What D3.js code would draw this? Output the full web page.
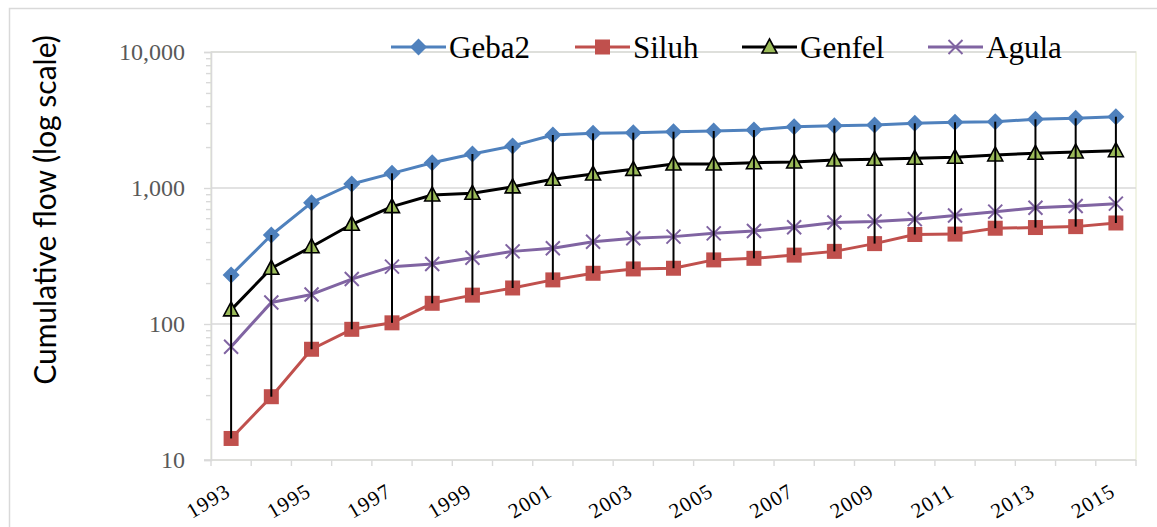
<!DOCTYPE html>
<html>
<head>
<meta charset="utf-8">
<script src="https://cdn.jsdelivr.net/npm/d3@7"></script>
<style>
  html, body { margin: 0; padding: 0; background: #fff; }
  svg { display: block; }
</style>
</head>
<body>
<svg id="chart" width="1157" height="527"></svg>
<script>
// ---- data ----
const years = [1993,1994,1995,1996,1997,1998,1999,2000,2001,2002,2003,2004,2005,2006,2007,2008,2009,2010,2011,2012,2013,2014,2015];
const geba2  = [229,451,780,1070,1282,1535,1778,2040,2454,2525,2552,2594,2624,2668,2825,2871,2904,2991,3043,3075,3200,3254,3343];
const siluh  = [14.4,29.2,65.2,91.4,102,142,163,184,211,236,254,257,296,304,321,342,390,455,458,506,512,520,553];
const genfel = [127,257,370,541,729,889,914,1020,1159,1267,1371,1500,1500,1535,1552,1607,1625,1653,1681,1749,1800,1840,1880];
const agula  = [68,144,165,214,264,276,307,342,361,403,427,439,464,483,514,557,568,590,628,670,715,738,767];
const seriesNames = ["Geba2","Siluh","Genfel","Agula"];
const yTickValues = [10,100,1000,10000];
const xLabelYears = [1993,1995,1997,1999,2001,2003,2005,2007,2009,2011,2013,2015];
const yTitle = "Cumulative flow (log scale)";

// ---- layout ----
const svg = d3.select("#chart");
const L = 211, R = 1136, T = 52, B = 460;

const x = d3.scaleBand().domain(years).range([L, R]);
const cx = d => x(d) + x.bandwidth() / 2;
const y = d3.scaleLog().domain([10, 10000]).range([B, T]);

const seriesData = [
  {name: seriesNames[0], values: geba2,  color: "#4f81bd", marker: "diamond"},
  {name: seriesNames[1], values: siluh,  color: "#c0504d", marker: "square"},
  {name: seriesNames[2], values: genfel, color: "#000000", marker: "triangle"},
  {name: seriesNames[3], values: agula,  color: "#8064a2", marker: "x"}
];

// outer chart border
svg.append("path").attr("d", `M9.5,527 V8.5 H1157`).attr("fill", "none").attr("stroke", "#d9d9d9").attr("stroke-width", 1.5);

// plot area border
svg.append("rect").attr("x", L).attr("y", T).attr("width", R - L).attr("height", B - T)
  .attr("fill", "none").attr("stroke", "#ecefdc").attr("stroke-width", 1.5);

// gridlines
svg.append("g").selectAll("line").data(yTickValues.slice(1)).join("line")
  .attr("x1", L).attr("x2", R).attr("y1", d => y(d)).attr("y2", d => y(d))
  .attr("stroke", "#d9d9d9").attr("stroke-width", 1.4);

// y axis minor ticks
const minor = [];
for (let e = 10; e < 10000; e *= 10) for (let k = 2; k <= 9; k++) minor.push(k * e);
const yMinor = svg.append("g").attr("transform", `translate(${L},0)`)
  .call(d3.axisLeft(y).tickValues(minor).tickSize(5).tickFormat(""));
yMinor.select(".domain").remove();
yMinor.selectAll("line").attr("stroke", "#d9d9d9").attr("stroke-width", 1.4);

// y axis major
const yAxis = svg.append("g").attr("transform", `translate(${L},0)`)
  .call(d3.axisLeft(y).tickValues(yTickValues).tickSize(7).tickPadding(19).tickFormat(d3.format(",")));
yAxis.select(".domain").attr("stroke", "#d9d9d9").attr("stroke-width", 1.6);
yAxis.selectAll("line").attr("stroke", "#d9d9d9").attr("stroke-width", 1.4);
yAxis.selectAll("text").attr("fill", "#595959").style("font-family", "'Liberation Serif', 'Times New Roman', serif").style("font-size", "24px");

// x axis line + boundary ticks
svg.append("line").attr("x1", L - 7).attr("x2", R).attr("y1", B).attr("y2", B)
  .attr("stroke", "#d9d9d9").attr("stroke-width", 1.6);
svg.append("g").selectAll("line").data(years.map(d => x(d)).concat([R])).join("line")
  .attr("x1", d => d).attr("x2", d => d).attr("y1", B).attr("y2", B + 6)
  .attr("stroke", "#d9d9d9").attr("stroke-width", 1.4);

// x labels
svg.append("g").selectAll("text").data(xLabelYears).join("text")
  .attr("transform", d => `translate(${cx(d) + 1},495) rotate(-31)`)
  .attr("text-anchor", "end")
  .style("font-family", "'Liberation Serif', 'Times New Roman', serif")
  .style("font-size", "21px").style("letter-spacing", "1.2px")
  .attr("fill", "#000")
  .text(d => d);

// y title
svg.append("text")
  .attr("transform", `translate(56,210) rotate(-90)`)
  .attr("text-anchor", "middle")
  .style("font-family", "Lato, 'Open Sans', sans-serif").style("font-size", "30px")
  .attr("fill", "#000").text(yTitle);

// series lines
const line = d3.line().x((d, i) => cx(years[i])).y(d => y(d));
seriesData.forEach(s => {
  svg.append("path").datum(s.values).attr("d", line)
    .attr("fill", "none").attr("stroke", s.color).attr("stroke-width", 3).attr("stroke-linejoin", "round");
});

// markers
function drawMarker(g, type, px, py, color) {
  if (type === "diamond") {
    g.append("path").attr("d", `M${px},${py-8.5} L${px+8.5},${py} L${px},${py+8.5} L${px-8.5},${py} Z`).attr("fill", color);
  } else if (type === "square") {
    g.append("rect").attr("x", px - 7.5).attr("y", py - 7.5).attr("width", 15).attr("height", 15).attr("fill", color);
  } else if (type === "triangle") {
    g.append("path").attr("d", `M${px},${py-8} L${px+7.5},${py+6} L${px-7.5},${py+6} Z`)
      .attr("fill", "#9bbb59").attr("stroke", "#000").attr("stroke-width", 1.6).attr("stroke-linejoin", "miter");
  } else if (type === "x") {
    g.append("path").attr("d", `M${px-7},${py-7} L${px+7},${py+7} M${px+7},${py-7} L${px-7},${py+7}`)
      .attr("stroke", color).attr("stroke-width", 2);
  }
}
const mg = svg.append("g");
seriesData.forEach(s => {
  s.values.forEach((v, i) => drawMarker(mg, s.marker, cx(years[i]), y(v), s.color));
});

// high-low lines
svg.append("g").selectAll("line").data(years).join("line")
  .attr("x1", d => cx(d)).attr("x2", d => cx(d))
  .attr("y1", (d, i) => y(d3.max([geba2[i], siluh[i], genfel[i], agula[i]])))
  .attr("y2", (d, i) => y(d3.min([geba2[i], siluh[i], genfel[i], agula[i]])))
  .attr("stroke", "#000").attr("stroke-width", 2);

// legend
const legendX = [391, 575, 742, 928];
const legY = 47;
const lg = svg.append("g");
seriesData.forEach((s, i) => {
  const x0 = legendX[i];
  lg.append("line").attr("x1", x0).attr("x2", x0 + 55).attr("y1", legY).attr("y2", legY)
    .attr("stroke", s.color).attr("stroke-width", 3);
  drawMarker(lg, s.marker, x0 + 27.5, legY, s.color);
  lg.append("text").attr("x", x0 + 58).attr("y", legY + 11)
    .style("font-family", "'Liberation Serif', 'Times New Roman', serif").style("font-size", "31px")
    .attr("fill", "#000").text(s.name);
});
</script>
</body>
</html>
